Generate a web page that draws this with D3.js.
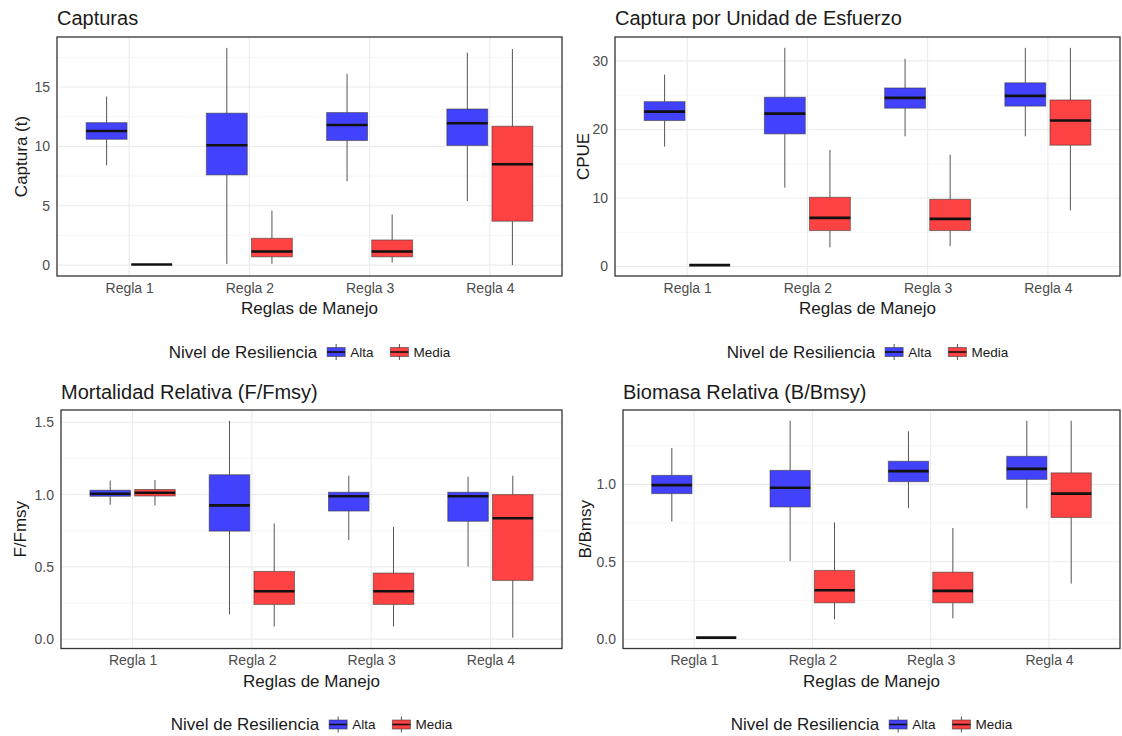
<!DOCTYPE html>
<html><head><meta charset="utf-8">
<script src="https://cdn.jsdelivr.net/npm/d3@7"></script>
<style>
body{margin:0;background:#fff;}
svg{font-family:"Liberation Sans",Arial,Helvetica,sans-serif;}
</style></head><body>
<svg id="chart" width="1122" height="736"></svg>
<script>
// ---------- data ----------
const categories = ["Regla 1", "Regla 2", "Regla 3", "Regla 4"];
const groups = ["Alta", "Media"];
const groupColors = ["#4242fc", "#fc4242"];
const legendTitle = "Nivel de Resiliencia";
const xTitle = "Reglas de Manejo";

// each box: [lower whisker, Q1, median, Q3, upper whisker]
const capturaAlta  = [[8.4, 10.6, 11.3, 12.0, 14.2], [0.1, 7.6, 10.1, 12.8, 18.3], [7.06, 10.5, 11.8, 12.85, 16.1], [5.4, 10.08, 11.95, 13.15, 17.9]];
const capturaMedia = [[0.05, 0.05, 0.05, 0.05, 0.05], [0.1, 0.7, 1.15, 2.26, 4.6], [0.22, 0.7, 1.15, 2.12, 4.27], [0.0, 3.7, 8.5, 11.7, 18.2]];
const capturaTicks = [0, 5, 10, 15];
const capturaTickLabels = ["0", "5", "10", "15"];

const cpueAlta  = [[17.5, 21.3, 22.6, 24.05, 28.0], [11.5, 19.35, 22.3, 24.7, 31.9], [19.0, 23.1, 24.6, 26.05, 30.3], [19.0, 23.4, 24.9, 26.8, 31.9]];
const cpueMedia = [[0.2, 0.2, 0.2, 0.2, 0.2], [2.8, 5.25, 7.1, 10.1, 17.0], [2.96, 5.25, 6.95, 9.8, 16.3], [8.2, 17.7, 21.3, 24.3, 31.9]];
const cpueTicks = [0, 10, 20, 30];
const cpueTickLabels = ["0", "10", "20", "30"];

const fAlta  = [[0.93, 0.988, 1.006, 1.03, 1.097], [0.171, 0.747, 0.925, 1.137, 1.51], [0.685, 0.886, 0.988, 1.016, 1.13], [0.502, 0.815, 0.988, 1.016, 1.123]];
const fMedia = [[0.925, 0.99, 1.012, 1.035, 1.10], [0.087, 0.24, 0.331, 0.468, 0.80], [0.087, 0.24, 0.331, 0.457, 0.776], [0.01, 0.406, 0.836, 1.0, 1.13]];
const fTicks = [0, 0.5, 1.0, 1.5];
const fTickLabels = ["0.0", "0.5", "1.0", "1.5"];

const bAlta  = [[0.76, 0.94, 0.995, 1.058, 1.235], [0.504, 0.854, 0.978, 1.09, 1.41], [0.846, 1.017, 1.085, 1.149, 1.342], [0.844, 1.032, 1.10, 1.181, 1.41]];
const bMedia = [[0.01, 0.01, 0.01, 0.01, 0.01], [0.128, 0.235, 0.316, 0.444, 0.754], [0.135, 0.235, 0.312, 0.433, 0.718], [0.359, 0.786, 0.94, 1.074, 1.41]];
const bTicks = [0, 0.5, 1.0];
const bTickLabels = ["0.0", "0.5", "1.0"];

const panelTitles = ["Capturas", "Captura por Unidad de Esfuerzo", "Mortalidad Relativa (F/Fmsy)", "Biomasa Relativa (B/Bmsy)"];
const yTitles = ["Captura (t)", "CPUE", "F/Fmsy", "B/Bmsy"];

// ---------- layout ----------
const layout = [
  {left: 57,  right: 562,  top: 37,  bottom: 276, yTitleX: 21,  titleY: 25},
  {left: 615, right: 1120, top: 37,  bottom: 276, yTitleX: 583, titleY: 25},
  {left: 61,  right: 562,  top: 410, bottom: 648.5, yTitleX: 20,  titleY: 399},
  {left: 623, right: 1120, top: 410, bottom: 648.5, yTitleX: 585, titleY: 399}
];

const panels = [
  {series: [capturaAlta, capturaMedia], ticks: capturaTicks, labels: capturaTickLabels},
  {series: [cpueAlta, cpueMedia], ticks: cpueTicks, labels: cpueTickLabels},
  {series: [fAlta, fMedia], ticks: fTicks, labels: fTickLabels},
  {series: [bAlta, bMedia], ticks: bTicks, labels: bTickLabels}
];

const svg = d3.select("#chart");

panels.forEach((p, i) => {
  const L = layout[i];
  const g = svg.append("g");
  const x = d3.scalePoint().domain(categories).range([L.left, L.right]).padding(0.6);
  const step = x.step();
  const all = p.series.flat(2);
  const lo = d3.min(all), hi = d3.max(all), pad = (hi - lo) * 0.05;
  const y = d3.scaleLinear().domain([lo - pad, hi + pad]).range([L.bottom, L.top]);
  const [d0, d1] = y.domain();

  // minor grid
  const tstep = p.ticks[1] - p.ticks[0];
  const minor = [];
  for (let t = p.ticks[0] - tstep / 2; t <= d1; t += tstep) if (t >= d0) minor.push(t);
  g.selectAll(".minor").data(minor).join("line")
    .attr("x1", L.left).attr("x2", L.right)
    .attr("y1", d => y(d)).attr("y2", d => y(d))
    .attr("stroke", "#f2f2f2").attr("stroke-width", 0.6);
  // major grid
  g.selectAll(".major").data(p.ticks).join("line")
    .attr("x1", L.left).attr("x2", L.right)
    .attr("y1", d => y(d)).attr("y2", d => y(d))
    .attr("stroke", "#ebebeb").attr("stroke-width", 1.1);
  g.selectAll(".vmajor").data(categories).join("line")
    .attr("x1", d => x(d)).attr("x2", d => x(d))
    .attr("y1", L.top).attr("y2", L.bottom)
    .attr("stroke", "#ebebeb").attr("stroke-width", 1.1);

  const offsets = [-0.1875 * step, 0.1875 * step];
  const bw = 0.34 * step;

  p.series.forEach((ser, gi) => {
    ser.forEach((b, ci) => {
      const cx = x(categories[ci]) + offsets[gi];
      const bg = g.append("g");
      bg.append("line").attr("x1", cx).attr("x2", cx).attr("y1", y(b[4])).attr("y2", y(b[3]))
        .attr("stroke", "#555").attr("stroke-width", 1);
      bg.append("line").attr("x1", cx).attr("x2", cx).attr("y1", y(b[1])).attr("y2", y(b[0]))
        .attr("stroke", "#555").attr("stroke-width", 1);
      bg.append("rect").attr("x", cx - bw / 2).attr("width", bw)
        .attr("y", y(b[3])).attr("height", Math.max(0, y(b[1]) - y(b[3])))
        .attr("fill", groupColors[gi]).attr("stroke", "#333").attr("stroke-opacity", 0.55).attr("stroke-width", 1);
      bg.append("line").attr("x1", cx - bw / 2).attr("x2", cx + bw / 2).attr("y1", y(b[2])).attr("y2", y(b[2]))
        .attr("stroke", "#111").attr("stroke-width", 2.6);
    });
  });

  // panel border
  g.append("rect").attr("x", L.left).attr("y", L.top).attr("width", L.right - L.left).attr("height", L.bottom - L.top)
    .attr("fill", "none").attr("stroke", "#333").attr("stroke-width", 1.3);

  // axes
  const yAxis = d3.axisLeft(y).tickValues(p.ticks).tickFormat((d, k) => p.labels[k]).tickSize(0).tickPadding(7);
  const ya = g.append("g").attr("transform", `translate(${L.left},0)`).call(yAxis);
  ya.select(".domain").remove();
  ya.selectAll("text").attr("fill", "#4d4d4d").attr("font-size", 14).attr("font-family", "Liberation Sans, Arial, sans-serif");

  const xAxis = d3.axisBottom(x).tickSize(0).tickPadding(7);
  const xa = g.append("g").attr("transform", `translate(0,${L.bottom})`).call(xAxis);
  xa.select(".domain").remove();
  xa.selectAll("text").attr("fill", "#4d4d4d").attr("font-size", 14).attr("font-family", "Liberation Sans, Arial, sans-serif");

  // titles
  g.append("text").attr("x", L.left).attr("y", L.titleY).text(panelTitles[i])
    .attr("font-size", 20).attr("fill", "#1a1a1a");
  const cxp = (L.left + L.right) / 2;
  g.append("text").attr("x", cxp).attr("y", L.bottom + 38).attr("text-anchor", "middle").text(xTitle)
    .attr("font-size", 17).attr("fill", "#1a1a1a");
  g.append("text").attr("transform", `translate(${L.yTitleX},${(L.top + L.bottom) / 2}) rotate(-90)`)
    .attr("text-anchor", "middle").attr("dy", "0.35em").text(yTitles[i])
    .attr("font-size", 17).attr("fill", "#1a1a1a");

  // legend
  const lg = g.append("g");
  const ly = L.bottom + 76;
  let cur = 0;
  const lt = lg.append("text").attr("x", cur).attr("y", ly).attr("dy", "0.35em").text(legendTitle)
    .attr("font-size", 17).attr("fill", "#1a1a1a");
  cur += lt.node().getComputedTextLength() + 10;
  groups.forEach((gr, gi) => {
    const kx = cur + 9;
    lg.append("line").attr("x1", kx).attr("x2", kx).attr("y1", ly - 8).attr("y2", ly + 8)
      .attr("stroke", "#555").attr("stroke-width", 1);
    lg.append("rect").attr("x", cur).attr("y", ly - 4.5).attr("width", 18).attr("height", 9)
      .attr("fill", groupColors[gi]).attr("stroke", "#333").attr("stroke-opacity", 0.55);
    lg.append("line").attr("x1", cur).attr("x2", cur + 18).attr("y1", ly).attr("y2", ly)
      .attr("stroke", "#111").attr("stroke-width", 1.6);
    cur += 23;
    const t = lg.append("text").attr("x", cur).attr("y", ly).attr("dy", "0.35em").text(gr)
      .attr("font-size", 13.5).attr("fill", "#1a1a1a");
    cur += t.node().getComputedTextLength() + (gi === 0 ? 17 : 0);
  });
  lg.attr("transform", `translate(${cxp - cur / 2},0)`);
});
</script>
</body></html>
